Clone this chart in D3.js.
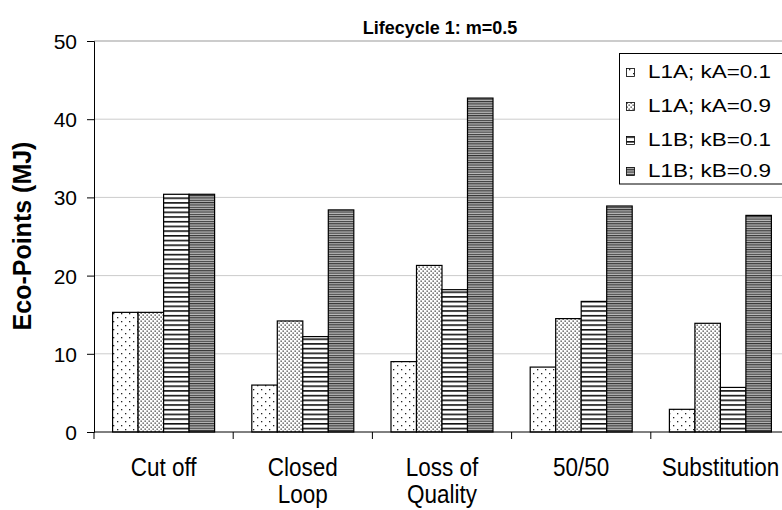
<!DOCTYPE html>
<html><head><meta charset="utf-8">
<script src="https://cdn.jsdelivr.net/npm/d3@7"></script>
<style>body{margin:0;background:#fff}svg{display:block}text{font-family:"Liberation Sans",Arial,sans-serif}</style>
</head><body><svg id="c" width="782" height="510"></svg>
<script>
const categories = [["Cut off"],["Closed","Loop"],["Loss of","Quality"],["50/50"],["Substitution"]];
const seriesNames = ["L1A; kA=0.1","L1A; kA=0.9","L1B; kB=0.1","L1B; kB=0.9"];
const L1A_k01 = [15.3, 6.0, 9.0, 8.3, 2.9];
const L1A_k09 = [15.3, 14.2, 21.3, 14.5, 13.9];
const L1B_k01 = [30.4, 12.2, 18.2, 16.7, 5.7];
const L1B_k09 = [30.4, 28.4, 42.7, 28.9, 27.7];
const yTicks = [0,10,20,30,40,50];
const series = [L1A_k01, L1A_k09, L1B_k01, L1B_k09];

(function(){
const svg = d3.select("#c");
const defs = svg.append("defs");
const p1 = defs.append("pattern").attr("id","p0").attr("patternUnits","userSpaceOnUse").attr("width",8).attr("height",8);
p1.append("rect").attr("width",8).attr("height",8).attr("fill","#fff");
p1.append("rect").attr("x",1).attr("y",1).attr("width",1.3).attr("height",1.3).attr("fill","#222");
p1.append("rect").attr("x",5).attr("y",5).attr("width",1.3).attr("height",1.3).attr("fill","#222");
const p2 = defs.append("pattern").attr("id","p1").attr("patternUnits","userSpaceOnUse").attr("width",4).attr("height",4);
p2.append("rect").attr("width",4).attr("height",4).attr("fill","#fff");
p2.append("rect").attr("x",0.5).attr("y",0.5).attr("width",1.3).attr("height",1.3).attr("fill","#333");
p2.append("rect").attr("x",2.5).attr("y",2.5).attr("width",1.3).attr("height",1.3).attr("fill","#333");
const p3 = defs.append("pattern").attr("id","p2").attr("patternUnits","userSpaceOnUse").attr("width",8).attr("height",4.7);
p3.append("rect").attr("width",8).attr("height",4.7).attr("fill","#fff");
p3.append("rect").attr("y",0).attr("width",8).attr("height",1.6).attr("fill","#111");
const p4 = defs.append("pattern").attr("id","p3").attr("patternUnits","userSpaceOnUse").attr("width",8).attr("height",2.35);
p4.append("rect").attr("width",8).attr("height",2.35).attr("fill","#bbb");
p4.append("rect").attr("y",0).attr("width",8).attr("height",1.1).attr("fill","#333");

const mL = 94, mR = 790, mT = 41, mB = 432;
const x = d3.scaleBand().domain(d3.range(categories.length)).range([mL, mR]);
const xs = d3.scaleBand().domain(d3.range(series.length)).range([18.6, x.bandwidth()-18.6]);
const y = d3.scaleLinear().domain([0,50]).range([mB, mT]);

svg.append("g").selectAll("line").data(yTicks.filter(d=>d>0)).join("line")
  .attr("x1",mL).attr("x2",mR).attr("y1",d=>y(d)).attr("y2",d=>y(d))
  .attr("stroke",d=>d===50?"#999":"#ccc").attr("stroke-width",1);

const g = svg.append("g");
series.forEach((vals,si)=>{
  g.append("g").selectAll("rect").data(vals).join("rect")
    .attr("x",(d,i)=>x(i)+xs(si)).attr("width",xs.bandwidth())
    .attr("y",d=>y(d)).attr("height",d=>y(0)-y(d))
    .attr("fill",`url(#p${si})`).attr("stroke","#000").attr("stroke-width",1.2);
});

const ya = svg.append("g").attr("transform",`translate(${mL},0)`)
  .call(d3.axisLeft(y).tickValues(yTicks).tickSize(7).tickPadding(10));
ya.select(".domain").attr("stroke","#000");
ya.selectAll(".tick line").attr("stroke","#000");
ya.selectAll("text").attr("font-size",21).attr("fill","#000").attr("dy","0.36em")
  .style("font-family","Liberation Sans, Arial");

const xa = svg.append("g").attr("transform",`translate(0,${mB})`);
xa.append("line").attr("x1",mL).attr("x2",mR).attr("y1",0).attr("y2",0).attr("stroke","#000");
const xt = d3.range(categories.length+1).map(i=> i<categories.length ? x(i) : mR);
xa.selectAll(".tk").data(xt).join("line").attr("class","tk")
  .attr("x1",d=>d).attr("x2",d=>d).attr("y1",0).attr("y2",7).attr("stroke","#000");
xa.selectAll(".lbl").data(categories).join("text").attr("class","lbl")
  .attr("text-anchor","middle").attr("font-size",25).attr("fill","#000")
  .attr("transform",(d,i)=>`translate(${x(i)+x.bandwidth()/2},0) scale(0.9,1)`)
  .each(function(d){
    d3.select(this).selectAll("tspan").data(d).join("tspan")
      .attr("x",0).attr("y",(t,j)=>44+j*27).text(t=>t);
  });

svg.append("text").attr("x",440).attr("y",34).attr("text-anchor","middle")
  .attr("font-size",18).attr("font-weight","bold").text("Lifecycle 1: m=0.5");

svg.append("text").attr("transform","translate(31,236) rotate(-90)").attr("text-anchor","middle")
  .attr("font-size",25).attr("font-weight","bold").text("Eco-Points (MJ)");

const lg = svg.append("g");
lg.append("rect").attr("x",619.5).attr("y",53.5).attr("width",170).attr("height",130.5)
  .attr("fill","#fff").attr("stroke","#000");
const rowsY = [78,112,146,177];
seriesNames.forEach((n,i)=>{
  lg.append("rect").attr("x",626.5).attr("y",rowsY[i]-9.5).attr("width",8).attr("height",8)
    .attr("fill",`url(#p${i})`).attr("stroke","#000").attr("stroke-width",0.8);
  lg.append("text").attr("x",648).attr("y",rowsY[i]).attr("font-size",19)
    .attr("textLength",123).attr("lengthAdjust","spacingAndGlyphs").text(n);
});
})();
</script></body></html>
